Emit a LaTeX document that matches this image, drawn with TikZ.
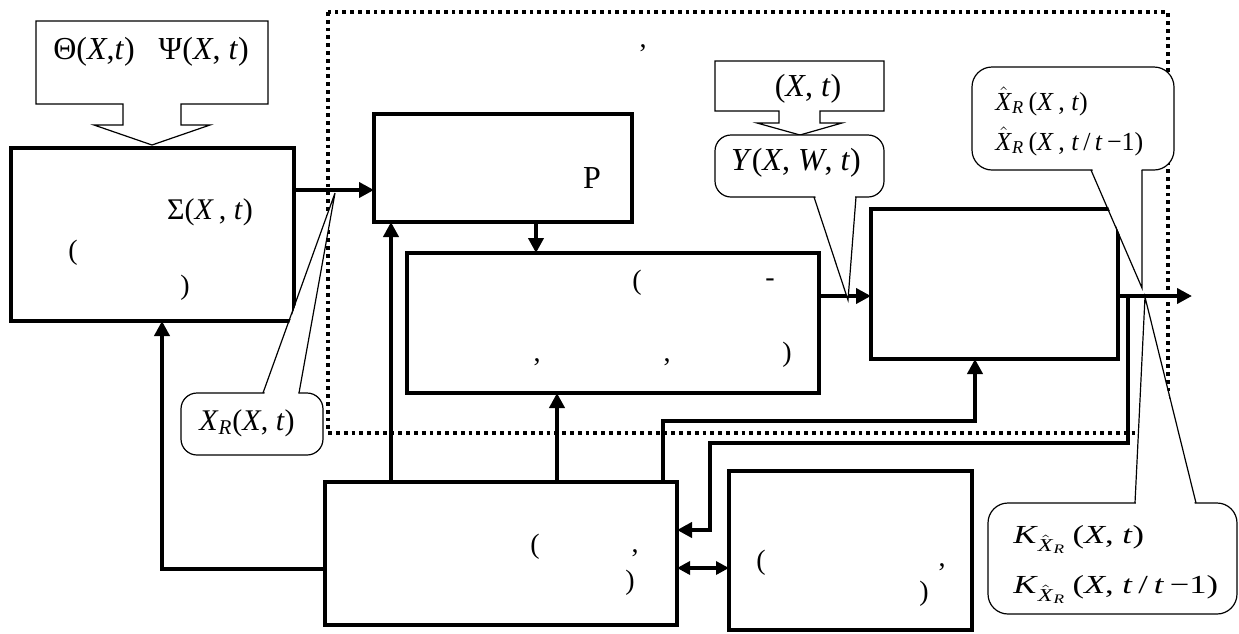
\documentclass[tikz,border=0pt]{standalone}
\usepackage{amsmath}
\usepackage{graphicx}
\usepackage{fontspec}
\setmainfont{Liberation Serif}
\usepackage{tikz}
\usetikzlibrary{arrows.meta, positioning, calc}

\newcommand{\ivar}[1]{\textit{#1}}
\newcommand{\xhat}{\hat{\text{\ivar{X}}}}

\tikzset{
  blok/.style={draw, line width=2pt, fill=white, inner sep=0pt, outer sep=0pt},
  arr/.style={line width=2pt, -{Triangle[length=7.5pt,width=7.5pt]}},
  dblarr/.style={line width=2pt, {Triangle[length=6.5pt,width=6.5pt]}-{Triangle[length=6.5pt,width=6.5pt]}},
  dotline/.style={line width=1.8pt, dash pattern=on 1.9pt off 2pt},
  callout/.style={draw, line width=0.6pt, fill=white},
  wedge/.style={line width=0.6pt},
  lbl/.style={inner sep=0pt, font=\fontsize{16}{19}\selectfont},
  sgn/.style={inner sep=0pt, font=\fontsize{14}{16}\selectfont}
}

\begin{document}
\begin{tikzpicture}[x=0.5pt, y=-0.5pt]
\useasboundingbox (0,0) rectangle (1239,633);

% dotted frame
\draw[dotline] (328,12) rectangle (1168,433);

% blocks
\node[blok, minimum width=141.5pt, minimum height=86.5pt] (sig) at (152.5,234.5) {};
\node[blok, minimum width=129pt, minimum height=54pt] (prg) at (503,168) {};
\node[blok, minimum width=206pt, minimum height=70pt] (mid) at (613,323) {};
\node[blok, minimum width=123.5pt, minimum height=75pt] (rt) at (994.5,284) {};
\node[blok, minimum width=176pt, minimum height=71.5pt] (bl) at (501,553.5) {};
\node[blok, minimum width=121.5pt, minimum height=79.5pt] (br) at (850.5,550.5) {};

% what is printed inside the blocks
\node[lbl, font=\fontsize{15}{18}\selectfont] (sigtx) at (210,212) {Σ(\ivar{X}\,, \ivar{t})};
\node[sgn] (s1) at (73,253) {(};
\node[sgn] (s2) at (185,288) {)};
\node[lbl] (ptx) at (592,178) {P};
\node[sgn] (m1) at (637,283) {(};
\node[sgn] (m2) at (770,283) {-};
\node[sgn] (m3) at (537,362) {,};
\node[sgn] (m4) at (667,362) {,};
\node[sgn] (m5) at (787,355) {)};
\node[sgn] (b1t) at (535,547) {(};
\node[sgn] (b2t) at (635,553) {,};
\node[sgn] (b3t) at (630,583) {)};
\node[sgn] (r1t) at (761,563) {(};
\node[sgn] (r2t) at (942,567) {,};
\node[sgn] (r3t) at (924,594) {)};
\node[sgn] (topc) at (643,48) {,};

% connectors
\draw[arr] ([yshift=22.25pt]sig.east) -- ([yshift=-11pt]prg.west);
\coordinate (p1) at ([xshift=16.5pt]prg.south);
\draw[arr] (p1) -- (p1 |- mid.north);
\draw[arr] ([yshift=13.5pt]mid.east) -- ([yshift=-6pt]rt.west);
\coordinate (out) at (1192,296);
\draw[arr] (rt.east |- out) -- (out);
\coordinate (b1) at ([xshift=-55pt]bl.north);
\draw[arr] (b1) -- (b1 |- prg.south);
\coordinate (b2) at ([xshift=28pt]bl.north);
\draw[arr] (b2) -- (b2 |- mid.south);
\coordinate (b3) at ([xshift=81pt]bl.north);
\coordinate (r1) at ([xshift=-9.75pt]rt.south);
\draw[arr] (b3) -- ++(0,-61) -| (r1);
\coordinate (fb) at (1128,296);
\coordinate (bin) at ([yshift=11.75pt]bl.east);
\draw[arr] (fb) -- ++(0,147) -| ([xshift=16.5pt]bin) -- (bin);
\coordinate (lft) at ([yshift=-7.75pt]bl.west);
\draw[arr] (lft) -| ([xshift=4.75pt]sig.south);
\draw[dblarr] ([yshift=-7.25pt]bl.east) -- ([yshift=-8.75pt]br.west);

% callouts
\draw[callout] (36,21) -- (268,21) -- (268,104) -- (181,104) -- (181,125) -- (210,125)
  -- (152,145) -- (94,125) -- (123,125) -- (123,104) -- (36,104) -- cycle;
\node[lbl] (thps) at (151,52) {Θ(\ivar{X},\ivar{t})\hspace{12pt}Ψ(\ivar{X}, \ivar{t})};

\draw[callout] (715,61) -- (884,61) -- (884,111) -- (820,111) -- (820,123) -- (842,123)
  -- (800,135) -- (757,123) -- (779,123) -- (779,111) -- (715,111) -- cycle;
\node[lbl] (xt) at (808,89) {(\ivar{X}, \ivar{t})};

\draw[callout, rounded corners=8pt] (715,135) rectangle (884,197);
\fill[white] (815,195) -- (848,300) -- (855,195) -- cycle;
\draw[wedge] (814,197) -- (848,300) -- (856,197);
\node[lbl] (yx) at (796,163) {\ivar{Y}(\ivar{X}, \ivar{W}, \ivar{t})};

\draw[callout, rounded corners=10pt] (972,67) rectangle (1174,170);
\fill[white] (1092,168) -- (1142,288) -- (1141.5,168) -- cycle;
\draw[wedge] (1091,170) -- (1142,288) -- (1142,170);
\node[lbl, font=\fontsize{13}{15}\selectfont, anchor=base west] (xh1) at (995,110)
  {$\xhat_{\text{\ivar{R}}}$\,(\ivar{X}\,, \ivar{t})};
\node[lbl, font=\fontsize{13}{15}\selectfont, anchor=base west] (xh2) at (995,150)
  {$\xhat_{\text{\ivar{R}}}$\,(\ivar{X}\,, \ivar{t}\,/\,\ivar{t}\,−1)};

\draw[callout, rounded corners=8pt] (181,393) rectangle (323,455);
\fill[white] (264,395) -- (335,193) -- (298,395) -- cycle;
\draw[wedge] (263,393) -- (335,193) -- (299,393);
\node[lbl, font=\fontsize{15}{18}\selectfont] (xr) at (247,423) {\ivar{X}\textsubscript{\ivar{R}}(\ivar{X}, \ivar{t})};

\draw[callout, rounded corners=10pt] (988,503) rectangle (1237,614);
\fill[white] (1136,505) -- (1145,297) -- (1195,505) -- cycle;
\draw[wedge] (1135,503) -- (1145,297) -- (1196,503);
\node[lbl, font=\fontsize{13}{16}\selectfont, anchor=base west] (k1) at (1013,543)
  {\scalebox{1.33}[1]{$\text{\ivar{K}}_{\xhat_{\text{\ivar{R}}}}$\,(\ivar{X}, \ivar{t})}};
\node[lbl, font=\fontsize{13}{16}\selectfont, anchor=base west] (k2) at (1013,593)
  {\scalebox{1.33}[1]{$\text{\ivar{K}}_{\xhat_{\text{\ivar{R}}}}$\,(\ivar{X}, \ivar{t}\,/\,\ivar{t}\,−1)}};
\end{tikzpicture}
\end{document}
